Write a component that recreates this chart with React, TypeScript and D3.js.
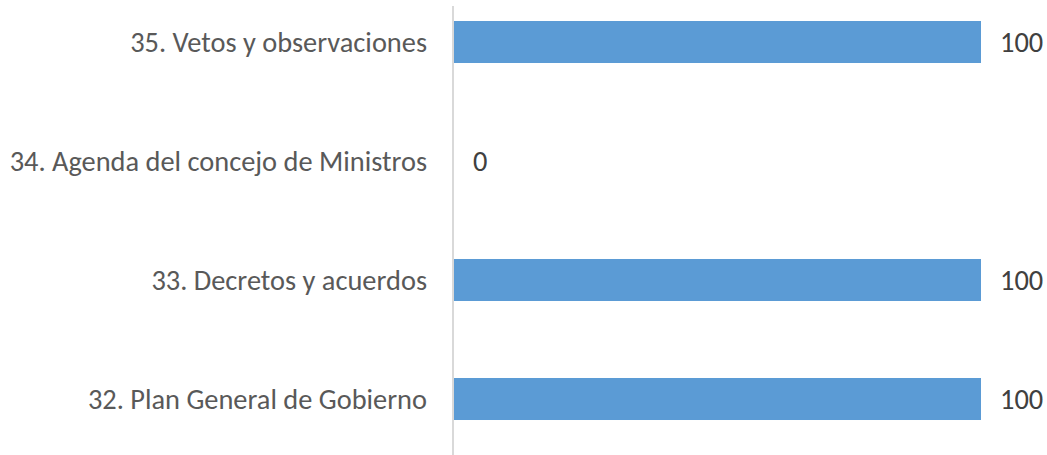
import React from 'react';
import * as d3 from 'd3';

const categories = [
  '35. Vetos y observaciones',
  '34. Agenda del concejo de Ministros',
  '33. Decretos y acuerdos',
  '32. Plan General de Gobierno',
];
const values = [100, 0, 100, 100];

const width = 1047;
const height = 455;

export default function App() {
  const x = d3.scaleLinear().domain([0, 100]).range([454, 981]);
  const y = d3
    .scaleBand<string>()
    .domain(categories)
    .range([-17.5, 458.5])
    .paddingInner(0.647)
    .paddingOuter(0.3235);

  const font = "Calibri, Carlito, 'Open Sans', sans-serif";

  return (
    <svg
      width={width}
      height={height}
      style={{ position: 'absolute', left: 0, top: 0, background: '#fff' }}
    >
      {categories.map((c, i) => (
        <rect
          key={c}
          x={x(0)}
          y={y(c)!}
          width={x(values[i]) - x(0)}
          height={y.bandwidth()}
          fill="#5b9bd5"
        />
      ))}
      <line x1={x(0) - 1} x2={x(0) - 1} y1={6} y2={height} stroke="#d9d9d9" strokeWidth={2} />
      {categories.map((c) => (
        <text
          key={'l' + c}
          x={427}
          y={y(c)! + y.bandwidth() / 2}
          textAnchor="end"
          dominantBaseline="central"
          fontFamily={font}
          fontSize={28.4}
          fill="#595959"
        >
          {c}
        </text>
      ))}
      {categories.map((c, i) => (
        <text
          key={'v' + c}
          x={x(values[i]) + 19}
          y={y(c)! + y.bandwidth() / 2}
          dominantBaseline="central"
          fontFamily={font}
          fontSize={28.4}
          fill="#404040"
        >
          {values[i]}
        </text>
      ))}
    </svg>
  );
}
